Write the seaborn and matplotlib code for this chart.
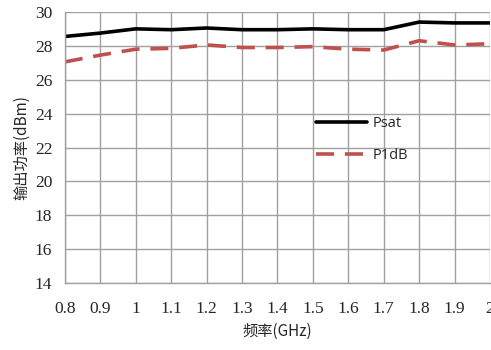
import matplotlib
matplotlib.use("Agg")
import matplotlib.pyplot as plt
import seaborn as sns
import pandas as pd

freq = [0.8, 0.9, 1.0, 1.1, 1.2, 1.3, 1.4, 1.5, 1.6, 1.7, 1.8, 1.9, 2.0]
psat = [28.55, 28.75, 29.0, 28.95, 29.05, 28.95, 28.95, 29.0, 28.95, 28.95, 29.4, 29.35, 29.35]
p1db = [27.05, 27.45, 27.8, 27.85, 28.05, 27.9, 27.9, 27.95, 27.8, 27.75, 28.3, 28.05, 28.12]
xticks = [0.8, 0.9, 1.0, 1.1, 1.2, 1.3, 1.4, 1.5, 1.6, 1.7, 1.8, 1.9, 2.0]
xticklabels = ["0.8", "0.9", "1", "1.1", "1.2", "1.3", "1.4", "1.5", "1.6", "1.7", "1.8", "1.9", "2"]
yticks = [14, 16, 18, 20, 22, 24, 26, 28, 30]

sns.set_style("white")
plt.rcParams['font.family'] = ['Noto Sans CJK SC', 'DejaVu Sans']

df = pd.DataFrame({"freq": freq, "Psat": psat, "P1dB": p1db})

fig = plt.figure(figsize=(4.91, 3.5), dpi=100)
ax = fig.add_axes([0.132, 0.191, 0.866, 0.775])

sns.lineplot(data=df, x="freq", y="Psat", ax=ax, color="black", linewidth=2.6, label="Psat")
sns.lineplot(data=df, x="freq", y="P1dB", ax=ax, color="#C0504D", linewidth=2.6,
             linestyle=(0, (5, 3)), label="P1dB")

ax.set_xlim(0.8, 2.0)
ax.set_ylim(14, 30)
ax.set_xticks(xticks)
ax.set_xticklabels(xticklabels)
ax.set_yticks(yticks)
ax.grid(True, color="#a0a0a0", linewidth=1.0)
ax.set_axisbelow(True)
for s in ["top", "right"]:
    ax.spines[s].set_visible(False)
for s in ["left", "bottom"]:
    ax.spines[s].set_color("#a0a0a0")
    ax.spines[s].set_linewidth(1.0)
ax.tick_params(axis="both", which="both", length=4, color="#a0a0a0", direction="out",
               labelsize=12.5, pad=5)
for lab in ax.get_xticklabels() + ax.get_yticklabels():
    lab.set_fontfamily("Liberation Serif")
ax.tick_params(axis="x", pad=9)

ax.set_xlabel("频率(GHz)", fontsize=11, labelpad=4)
ax.set_ylabel("输出功率(dBm)", fontsize=11, labelpad=3)

leg = ax.legend(loc="upper left", bbox_to_anchor=(0.56, 0.665), frameon=False,
                handlelength=3.5, handletextpad=0.4, labelspacing=1.2,
                prop={"family": "Open Sans", "size": 10.5})

fig.savefig("out.png", dpi=100)
